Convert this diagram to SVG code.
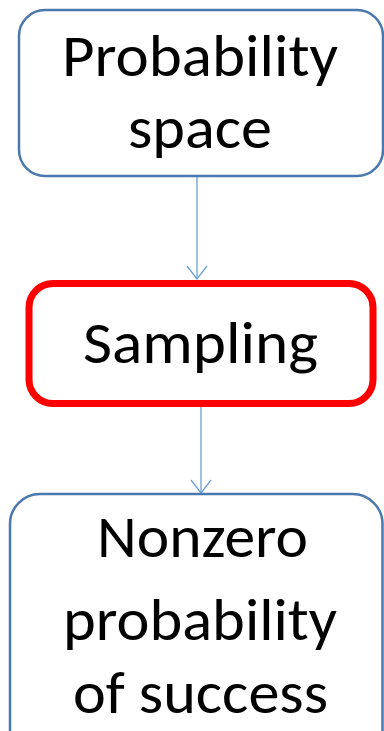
<svg xmlns="http://www.w3.org/2000/svg" width="384" height="731" viewBox="0 0 384 731">
  <style>
    .box { fill: #ffffff; stroke: #4a79ad; stroke-width: 2.5; }
    .hot { fill: #ffffff; stroke: #ff0000; stroke-width: 7; }
    .lbl { font-family: Carlito, Lato, "Open Sans", sans-serif; font-size: 59px; fill: #000000; text-anchor: middle; }
    .edge { stroke: #6a9fd8; stroke-width: 1.3; fill: none; }
  </style>
  <rect width="384" height="731" fill="#ffffff"/>

  <g id="connectors">
    <line class="edge" x1="197" y1="176" x2="197" y2="279"/>
    <polyline class="edge" points="187,266 197,279 207,266"/>
    <line class="edge" x1="201" y1="406" x2="201" y2="493"/>
    <polyline class="edge" points="191,480 201,493 211,480"/>
  </g>

  <g id="probability-space">
    <rect class="box" x="19" y="10" width="364" height="166" rx="26"/>
    <text class="lbl" x="200" y="76" textLength="276" lengthAdjust="spacingAndGlyphs">Probability</text>
    <text class="lbl" x="200" y="148" textLength="144" lengthAdjust="spacingAndGlyphs">space</text>
  </g>

  <g id="sampling">
    <rect class="hot" x="29" y="283.5" width="344" height="120" rx="24"/>
    <text class="lbl" x="200.5" y="363" textLength="235" lengthAdjust="spacingAndGlyphs">Sampling</text>
  </g>

  <g id="nonzero-probability">
    <rect class="box" x="10" y="494" width="372.5" height="270" rx="30"/>
    <text class="lbl" x="202.5" y="557" textLength="211" lengthAdjust="spacingAndGlyphs">Nonzero</text>
    <text class="lbl" x="200" y="640" textLength="274" lengthAdjust="spacingAndGlyphs">probability</text>
    <text class="lbl" x="200.5" y="713" textLength="255" lengthAdjust="spacingAndGlyphs">of success</text>
  </g>
</svg>
